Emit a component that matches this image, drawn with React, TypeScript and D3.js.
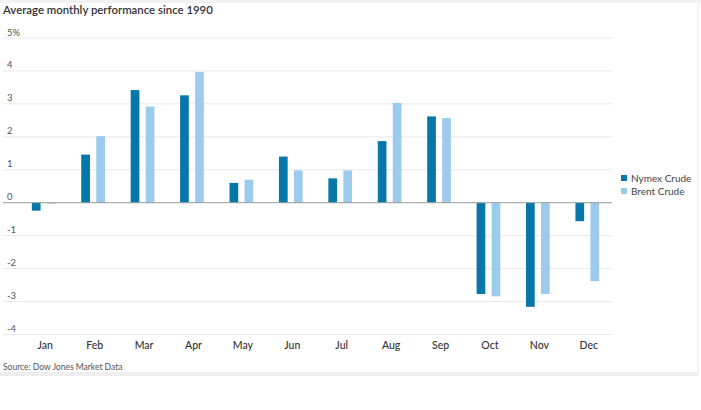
import React from "react";
import * as d3 from "d3";

const months = ["Jan", "Feb", "Mar", "Apr", "May", "Jun", "Jul", "Aug", "Sep", "Oct", "Nov", "Dec"];
const seriesNames = ["Nymex Crude", "Brent Crude"];
const nymex = [-0.24, 1.46, 3.42, 3.26, 0.6, 1.4, 0.74, 1.87, 2.62, -2.77, -3.16, -0.56];
const brent = [-0.03, 2.02, 2.92, 3.97, 0.7, 0.98, 0.98, 3.03, 2.57, -2.84, -2.77, -2.38];
const yTicks = [5, 4, 3, 2, 1, 0, -1, -2, -3, -4];
const colors = ["#0677a8", "#9ccbec"];

const W = 701;
const H = 410;
const FONT = "Lato, 'Open Sans', sans-serif";

export default function App() {
  const x0 = d3.scaleBand<string>().domain(months).range([19, 612]).paddingInner(0.52).paddingOuter(0.26);
  const x1 = d3.scaleBand<string>().domain(seriesNames).range([0, x0.bandwidth()]).paddingInner(0.42);
  const y = d3.scaleLinear().domain([-4, 5]).range([334.5, 38]);
  const data = [nymex, brent];

  return (
    <svg width={W} height={H} style={{ position: "absolute", left: 0, top: 0, background: "#fff" }}>
      <rect x={0} y={0} width={W} height={H} fill="#fff" />
      <rect x={0} y={0} width={W} height={3} fill="#f2f2f2" />
      <rect x={0} y={372} width={698} height={4} fill="#eeeeee" />
      <rect x={697} y={0} width={2} height={374} fill="#f4f4f4" />
      <text x={3} y={13.5} fontFamily={FONT} fontSize={11.4} fontWeight={600} fill="#333">
        Average monthly performance since 1990
      </text>
      {yTicks.map((t) => (
        <g key={t}>
          {t !== 0 && (
            <line x1={3} x2={612} y1={y(t)} y2={y(t)} stroke="#e9e9e9" strokeWidth={1} />
          )}
          <text x={7} y={y(t) - 2.5} fontFamily={FONT} fontSize={9.5} fill="#555">
            {t === 5 ? "5%" : String(t)}
          </text>
        </g>
      ))}
      {months.map((m, i) => (
        <g key={m} transform={`translate(${x0(m)},0)`}>
          {data.map((arr, s) => {
            const v = arr[i];
            return (
              <rect
                key={s}
                x={x1(seriesNames[s])}
                y={Math.min(y(v), y(0))}
                width={x1.bandwidth()}
                height={Math.abs(y(v) - y(0))}
                fill={colors[s]}
              />
            );
          })}
        </g>
      ))}
      <line x1={3} x2={612} y1={y(0)} y2={y(0)} stroke="#999" strokeWidth={1} />
      {months.map((m) => (
        <text
          key={m}
          x={(x0(m) as number) + x0.bandwidth() / 2 + 1.5}
          y={348.5}
          textAnchor="middle"
          fontFamily={FONT}
          fontSize={10.5}
          fontWeight={500}
          fill="#333"
        >
          {m}
        </text>
      ))}
      <text x={3} y={369.5} fontFamily={FONT} fontSize={8.5} fill="#555">
        Source: Dow Jones Market Data
      </text>
      {seriesNames.map((n, i) => (
        <g key={n} transform={`translate(621,${175 + i * 13})`}>
          <rect x={0} y={0} width={6} height={6} fill={colors[i]} />
          <text x={10} y={6.5} fontFamily={FONT} fontSize={10} fill="#444">
            {n}
          </text>
        </g>
      ))}
    </svg>
  );
}
